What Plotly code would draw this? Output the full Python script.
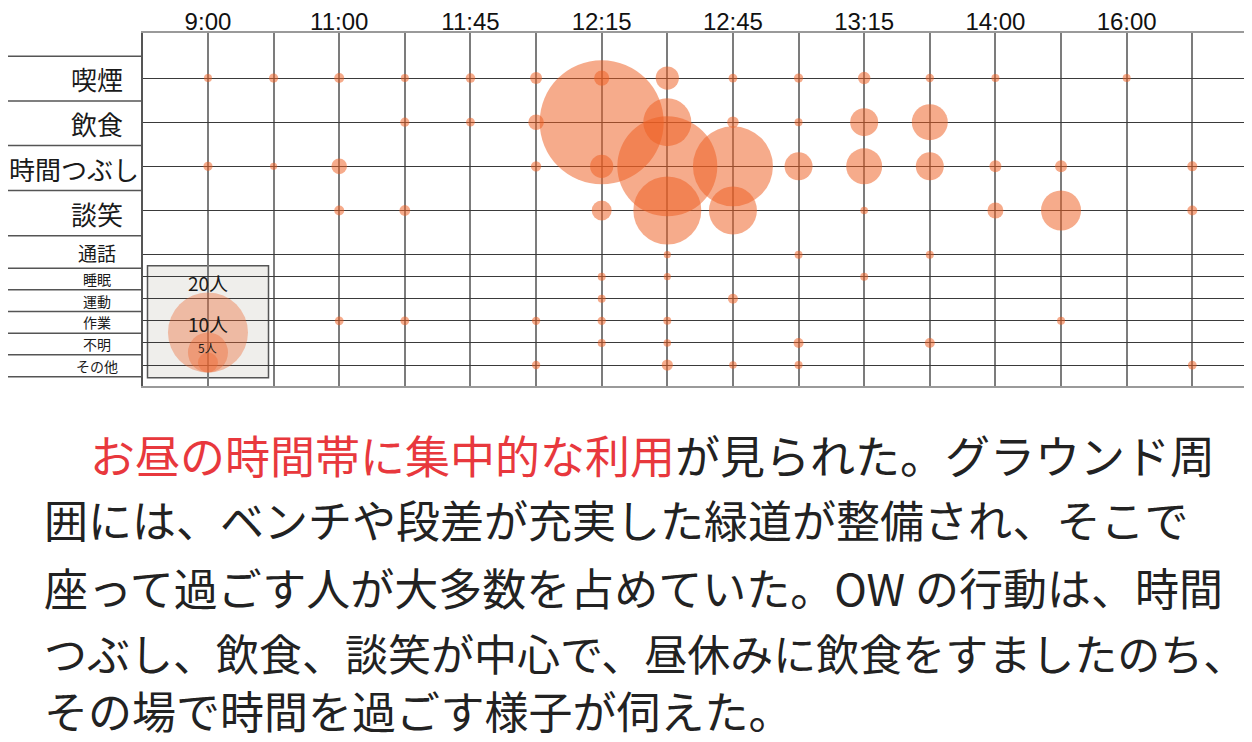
import plotly.graph_objects as go

# ---------------- data ----------------
times = ["9:00", "10:00", "11:00", "11:30", "11:45", "12:00", "12:15", "12:30",
         "12:45", "13:00", "13:15", "13:30", "14:00", "15:00", "16:00", "17:00"]
shown_times = ["9:00", "11:00", "11:45", "12:15", "12:45", "13:15", "14:00", "16:00"]

activities = ["喫煙", "飲食", "時間つぶし", "談笑", "通話", "睡眠", "運動", "作業", "不明", "その他"]
row_pos = [0, 2, 4, 6, 8, 9, 10, 11, 12, 13]
big_rows = ["喫煙", "飲食", "時間つぶし", "談笑"]

# average number of people per time slot (0 = none)
smoking  = [2.0, 2.3, 2.5, 2.0, 2.4, 3.0, 3.8, 5.8, 2.2, 2.3, 3.1, 2.1, 2.0, 0, 2.0, 0]
eating   = [0, 0, 0, 2.3, 2.2, 3.9, 31.0, 12.0, 2.9, 2.0, 7.0, 9.0, 0, 0, 0, 0]
killtime = [2.3, 1.8, 3.9, 0, 0, 2.6, 5.8, 25.0, 20.0, 7.0, 9.0, 7.0, 3.0, 3.0, 0, 2.5]
chatting = [0, 0, 2.5, 2.7, 0, 0, 5.0, 17.0, 12.0, 0, 1.9, 0, 4.0, 10.0, 0, 2.5]
phone    = [0, 0, 0, 0, 0, 0, 0, 1.8, 0, 2.0, 0, 2.0, 0, 0, 0, 0]
sleeping = [0, 0, 0, 0, 0, 0, 2.0, 1.8, 0, 0, 2.0, 0, 0, 0, 0, 0]
exercise = [0, 0, 0, 0, 0, 0, 2.0, 0, 2.5, 0, 0, 0, 0, 0, 0, 0]
working  = [0, 0, 2.2, 2.2, 0, 2.1, 2.1, 2.0, 0, 0, 0, 0, 0, 2.0, 0, 0]
unknown  = [0, 0, 0, 0, 0, 0, 2.0, 1.9, 0, 2.5, 0, 2.5, 0, 0, 0, 0]
other    = [0, 0, 0, 0, 0, 2.1, 0, 2.8, 1.9, 2.0, 0, 0, 0, 0, 0, 2.2]
series = [smoking, eating, killtime, chatting, phone, sleeping, exercise, working, unknown, other]

legend_values = [20, 10, 5]
legend_labels = ["20人", "10人", "5人"]

para_red = "お昼の時間帯に集中的な利用"
para_lines = [
    "が見られた。グラウンド周",
    "囲には、ベンチや段差が充実した緑道が整備され、そこで",
    "座って過ごす人が大多数を占めていた。OW の行動は、時間",
    "つぶし、飲食、談笑が中心で、昼休みに飲食をすましたのち、",
    "その場で時間を過ごす様子が伺えた。",
]

# label-area separators (row boundaries, in row units)
label_bounds = [-0.985, 1.04, 3.06, 5.1, 7.14, 8.62, 9.59, 10.58, 11.56, 12.54, 13.53]

# ---------------- layout geometry (reference-page pixels) ----------------
OFF = 8                      # page body margin
W, H = 1252 - OFF, 742 - OFF
PL, PR, PT, PB = 143, 1252, 33, 386
XR = [-0.99, 15.91]
YR = [13.95, -2.04]
ppu_y = (PB - PT) / (YR[0] - YR[1])
SIZEREF = 0.25  # 4 px diameter per person

def pxx(px):
    return (px - PL) / (PR - PL)

def pxy(py):
    return (PB - py) / (PB - PT)

FONT = "Noto Sans CJK JP"
BUBBLE = "rgba(237,95,35,0.75)"

xs, ys, ss = [], [], []
for act, r, vals in zip(activities, row_pos, series):
    for i, v in enumerate(vals):
        if v > 0:
            xs.append(i)
            ys.append(r)
            ss.append(v)

fig = go.Figure()
fig.add_trace(go.Scatter(
    x=xs, y=ys, mode="markers",
    marker=dict(size=ss, sizemode="diameter", sizeref=SIZEREF,
                color=BUBBLE, line=dict(width=0)),
    hoverinfo="skip", showlegend=False,
))

# size legend
base_y = YR[1] + (372.5 - PT) / ppu_y
leg_y = [base_y - (v / SIZEREF / 2) / ppu_y for v in legend_values]
fig.add_trace(go.Scatter(
    x=[0] * len(legend_values), y=leg_y, mode="markers",
    marker=dict(size=legend_values, sizemode="diameter", sizeref=SIZEREF,
                color="rgba(238,105,50,0.56)", line=dict(width=0)),
    hoverinfo="skip", showlegend=False,
))

shapes = []
# legend box
shapes.append(dict(type="rect", xref="paper", yref="paper",
                   x0=pxx(147.5), x1=pxx(268.5), y0=pxy(377.7), y1=pxy(265.7),
                   fillcolor="#efeeeb", line=dict(color="#555", width=1.5),
                   layer="between"))
# label area separators
for b in label_bounds:
    shapes.append(dict(type="line", xref="paper", yref="y",
                       x0=pxx(OFF), x1=0, y0=b, y1=b,
                       line=dict(color="#555", width=1.5)))

annotations = []
for k, act in enumerate(activities):
    yc = (label_bounds[k] + label_bounds[k + 1]) / 2
    if act in big_rows:
        size = 26
    elif act == "通話":
        size = 19
    else:
        size = 14
    if act == "時間つぶし":
        ax, anc = pxx(141), "right"
    else:
        ax, anc = pxx(97), "center"
    annotations.append(dict(text=act, xref="paper", yref="y", x=ax, y=yc,
                            xanchor=anc, yanchor="middle", showarrow=False,
                            font=dict(family=FONT, size=size, color="#1a1a1a")))

leg_label_py = [282, 323, 347]
leg_label_sz = [19, 19, 12]
for lab, py, sz in zip(legend_labels, leg_label_py, leg_label_sz):
    annotations.append(dict(text=lab, xref="x", yref="y", x=0,
                            y=YR[1] + (py - PT) / ppu_y,
                            xanchor="center", yanchor="middle", showarrow=False,
                            font=dict(family=FONT, size=sz, color="#1a1a1a")))

# paragraph
line_py = [454, 519, 587, 652, 710]
line_px = [88, 42, 42, 42, 42]
line_sz = [45, 44, 44, 43, 44]
for k, (py, px, sz) in enumerate(zip(line_py, line_px, line_sz)):
    if k == 0:
        txt = '<span style="color:#e8383d">' + para_red + '</span>' + para_lines[0]
    else:
        txt = para_lines[k]
    annotations.append(dict(text=txt, xref="paper", yref="paper",
                            x=pxx(px), y=pxy(py), xanchor="left", yanchor="middle",
                            showarrow=False,
                            font=dict(family=FONT, size=sz, color="#222")))

ticktext = [t if t in shown_times else "" for t in times]

fig.update_layout(
    width=W, height=H,
    margin=dict(l=PL - OFF, r=0, t=PT - OFF, b=H - (PB - OFF), pad=0),
    paper_bgcolor="white", plot_bgcolor="white",
    shapes=shapes, annotations=annotations,
    xaxis=dict(range=XR, side="top", tickmode="array", automargin=False,
               tickvals=list(range(len(times))), ticktext=ticktext,
               showgrid=True, gridcolor="#7c7c7c", gridwidth=2,
               zeroline=False, ticks="", showline=True, linecolor="#9a9a9a",
               linewidth=2, mirror=True, ticklabelstandoff=-9,
               tickfont=dict(family="Liberation Sans", size=24, color="#111")),
    yaxis=dict(range=YR, tickmode="array", tickvals=row_pos, automargin=False,
               showticklabels=False, showgrid=True, gridcolor="#3a3a3a",
               gridwidth=1.3, zeroline=False, ticks="",
               showline=True, linecolor="#555", linewidth=1.5, mirror=False),
)

fig.write_html("out.html")
